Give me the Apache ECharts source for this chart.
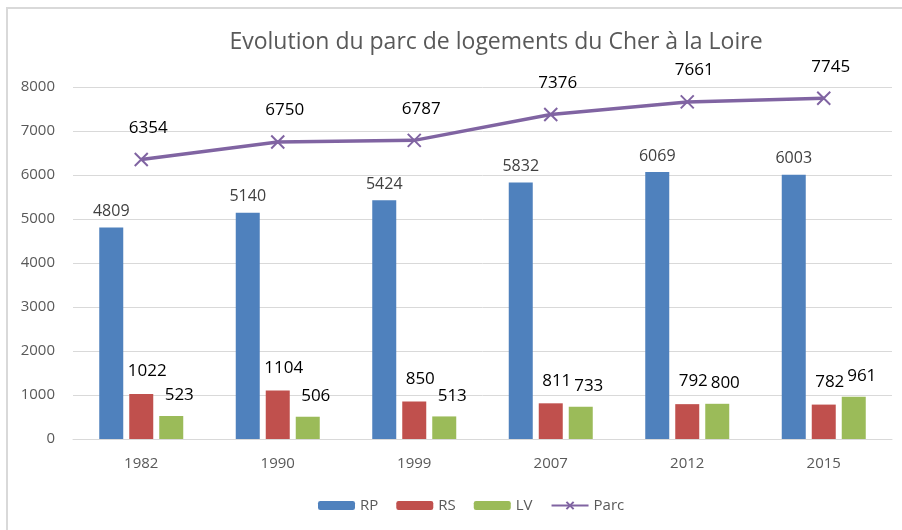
<!DOCTYPE html>
<html>
<head>
<meta charset="utf-8">
<script src="https://cdn.jsdelivr.net/npm/echarts@6/dist/echarts.min.js"></script>
<style>
  html, body { margin: 0; padding: 0; background: #fff; }
  #chart { width: 902px; height: 530px; }
</style>
</head>
<body>
<div id="chart"></div>
<script>
var years = ['1982', '1990', '1999', '2007', '2012', '2015']
var rp = [4809, 5140, 5424, 5832, 6069, 6003]
var rs = [1022, 1104, 850, 811, 792, 782]
var lv = [523, 506, 513, 733, 800, 961]
var parc = [6354, 6750, 6787, 7376, 7661, 7745]
var yTicks = { min: 0, max: 8000, interval: 1000 }

var font = "'Open Sans', sans-serif"
var chart = echarts.init(document.getElementById('chart'))

var bigLabel = {
  show: true,
  position: 'top',
  distance: 4,
  offset: [6, 0],
  color: '#000',
  fontSize: 17,
  fontFamily: font
}

var option = {
  animation: false,
  textStyle: { fontFamily: font },
  title: {
    text: 'Evolution du parc de logements du Cher à la Loire',
    left: 491,
    textAlign: 'center',
    top: 26,
    textStyle: { fontSize: 23, fontWeight: 'normal', color: '#595959', fontFamily: font }
  },
  graphic: [{
    type: 'rect',
    shape: { x: 7, y: 8, width: 1000, height: 1000 },
    style: { fill: 'none', stroke: '#d9d9d9', lineWidth: 2 },
    silent: true
  }],
  legend: {
    bottom: 12,
    left: 313,
    itemWidth: 37,
    itemHeight: 9,
    itemGap: 18,
    textStyle: { fontSize: 15, color: '#595959', fontFamily: font },
    data: ['RP', 'RS', 'LV', 'Parc']
  },
  grid: { left: 73, right: 10, top: 87, bottom: 91 },
  xAxis: {
    type: 'category',
    data: years,
    axisLine: { lineStyle: { color: '#d9d9d9', width: 1 } },
    axisTick: { show: false },
    axisLabel: { color: '#595959', fontSize: 15, margin: 17, fontFamily: font }
  },
  yAxis: {
    type: 'value',
    min: yTicks.min,
    max: yTicks.max,
    interval: yTicks.interval,
    axisLine: { show: false },
    axisTick: { show: false },
    axisLabel: {
      color: '#595959', fontSize: 15, margin: 18, fontFamily: font,
      formatter: function(v) { return String(v) }
    },
    splitLine: { lineStyle: { color: '#d9d9d9', width: 1 } }
  },
  series: [
    {
      name: 'RP',
      type: 'bar',
      data: rp,
      barWidth: 24,
      barGap: '25%',
      itemStyle: { color: '#4f81bd' },
      label: { show: true, position: 'top', distance: 8, color: '#404040', fontSize: 16, fontFamily: font }
    },
    {
      name: 'RS',
      type: 'bar',
      data: rs,
      barWidth: 24,
      barGap: '25%',
      itemStyle: { color: '#c0504d' },
      label: Object.assign({}, bigLabel, { distance: 14 })
    },
    {
      name: 'LV',
      type: 'bar',
      data: lv,
      barWidth: 24,
      barGap: '25%',
      itemStyle: { color: '#9bbb59' },
      label: Object.assign({}, bigLabel, { offset: [8, 0], distance: 12 })
    },
    {
      name: 'Parc',
      type: 'line',
      data: parc,
      symbol: 'path://M0,0L10,10M10,0L0,10',
      symbolSize: 13,
      lineStyle: { color: '#8064a2', width: 3.5 },
      itemStyle: { color: 'none', borderColor: '#8064a2', borderWidth: 2 },
      label: Object.assign({}, bigLabel, { distance: 14, offset: [7, 0] })
    }
  ]
}

chart.setOption(option)
</script>
</body>
</html>
